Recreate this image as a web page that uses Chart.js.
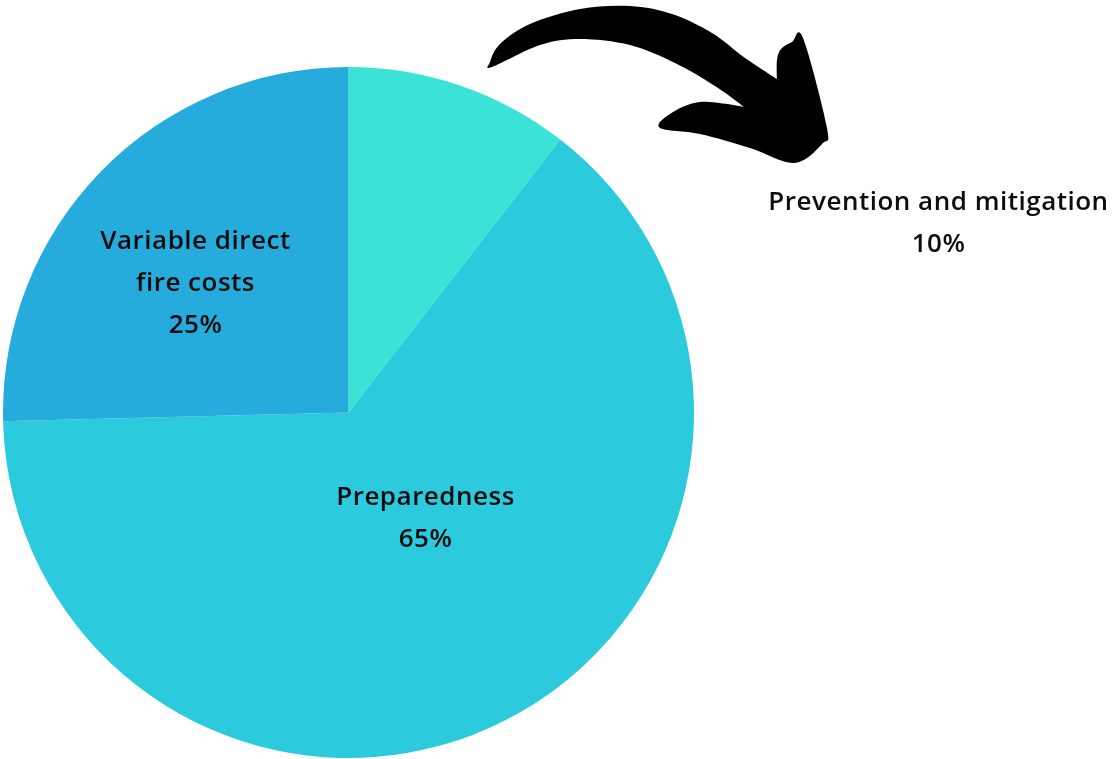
<!DOCTYPE html>
<html lang="en">
<head>
    <meta charset="UTF-8">
    <title>Fire budget split</title>
    <script src="https://cdn.jsdelivr.net/npm/chart.js"></script>
    <style>
        body {
            margin: 0;
            background-color: white;
            overflow: hidden;
        }
        .chart-container {
            position: relative;
            width: 1113px;
            height: 759px;
        }
    </style>
</head>
<body>
    <div class="chart-container">
        <canvas id="pieChart"></canvas>
    </div>

    <script>
        // slices in clockwise order starting from 12 o'clock
        const categories = ['Prevention and mitigation', 'Preparedness', 'Variable direct fire costs'];
        const shares = [10.5, 64.1, 25.4];
        const shareLabels = ['10%', '65%', '25%'];
        const labelLines = [
            ['Prevention and mitigation'],
            ['Preparedness'],
            ['Variable direct', 'fire costs']
        ];
        const sliceColors = ['#3ae3d6', '#2ccadd', '#26acdc'];

        // label placement: offset from pie centre, in pixels
        const labelOffsets = [
            { dx: 590, dy: -189 },
            { dx: 77, dy: 106 },
            { dx: -153, dy: -129 }
        ];

        const labelPlugin = {
            id: 'sliceLabels',
            afterDatasetsDraw(chart) {
                const ctx = chart.ctx;
                const meta = chart.getDatasetMeta(0);
                const lineH = 42;
                ctx.save();
                ctx.fillStyle = '#0d0d0d';
                ctx.font = '600 26px "Open Sans", Lato, sans-serif';
                ctx.letterSpacing = '0.5px';
                ctx.textAlign = 'center';
                ctx.textBaseline = 'middle';
                meta.data.forEach((arc, i) => {
                    const lines = labelLines[i].concat([shareLabels[i]]);
                    const cx = arc.x + labelOffsets[i].dx;
                    const cy = arc.y + labelOffsets[i].dy;
                    const top = cy - (lines.length - 1) * lineH / 2;
                    lines.forEach((t, j) => ctx.fillText(t, cx, top + j * lineH));
                });
                ctx.restore();
            }
        };

        // the big black hand-drawn arrow pointing at the small slice label
        // [x, y, sharp corner?]
        const arrowOutline = [
            [490, 62, 0], [500, 44, 0], [530, 24, 0], [580, 9, 0], [630, 6, 0], [672, 14, 0],
            [712, 33, 0], [745, 58, 0], [777, 79, 1], [777, 60, 0], [781, 49, 0], [792, 42, 0], [803, 38, 0],
            [827, 128, 0], [822, 144, 0], [794, 163, 0], [750, 148, 0], [700, 134, 0], [660, 128, 0],
            [670, 114, 0], [700, 102, 0], [744, 107, 1], [715, 86, 0], [675, 63, 0],
            [630, 45, 0], [580, 39, 0], [540, 45, 0], [492, 67, 0]
        ];

        const arrowPlugin = {
            id: 'arrow',
            afterDraw(chart) {
                const ctx = chart.ctx;
                const p = arrowOutline;
                const n = p.length;
                ctx.save();
                ctx.fillStyle = '#000000';
                ctx.beginPath();
                ctx.moveTo(p[0][0], p[0][1]);
                for (let i = 0; i < n; i++) {
                    const p0 = p[(i - 1 + n) % n], p1 = p[i], p2 = p[(i + 1) % n], p3 = p[(i + 2) % n];
                    let c1x = p1[0], c1y = p1[1], c2x = p2[0], c2y = p2[1];
                    if (!p1[2]) { c1x += (p2[0] - p0[0]) / 6; c1y += (p2[1] - p0[1]) / 6; }
                    if (!p2[2]) { c2x -= (p3[0] - p1[0]) / 6; c2y -= (p3[1] - p1[1]) / 6; }
                    ctx.bezierCurveTo(c1x, c1y, c2x, c2y, p2[0], p2[1]);
                }
                ctx.closePath();
                ctx.fill();
                ctx.restore();
            }
        };

        const ctx = document.getElementById('pieChart').getContext('2d');
        const chart = new Chart(ctx, {
            type: 'pie',
            data: {
                labels: categories,
                datasets: [{
                    data: shares,
                    backgroundColor: sliceColors,
                    borderWidth: 0
                }]
            },
            options: {
                responsive: true,
                maintainAspectRatio: false,
                animation: false,
                layout: {
                    padding: { left: 3, top: 67, right: 419, bottom: 1 }
                },
                plugins: {
                    legend: { display: false },
                    tooltip: { enabled: false }
                }
            },
            plugins: [labelPlugin, arrowPlugin]
        });
    </script>
</body>
</html>
